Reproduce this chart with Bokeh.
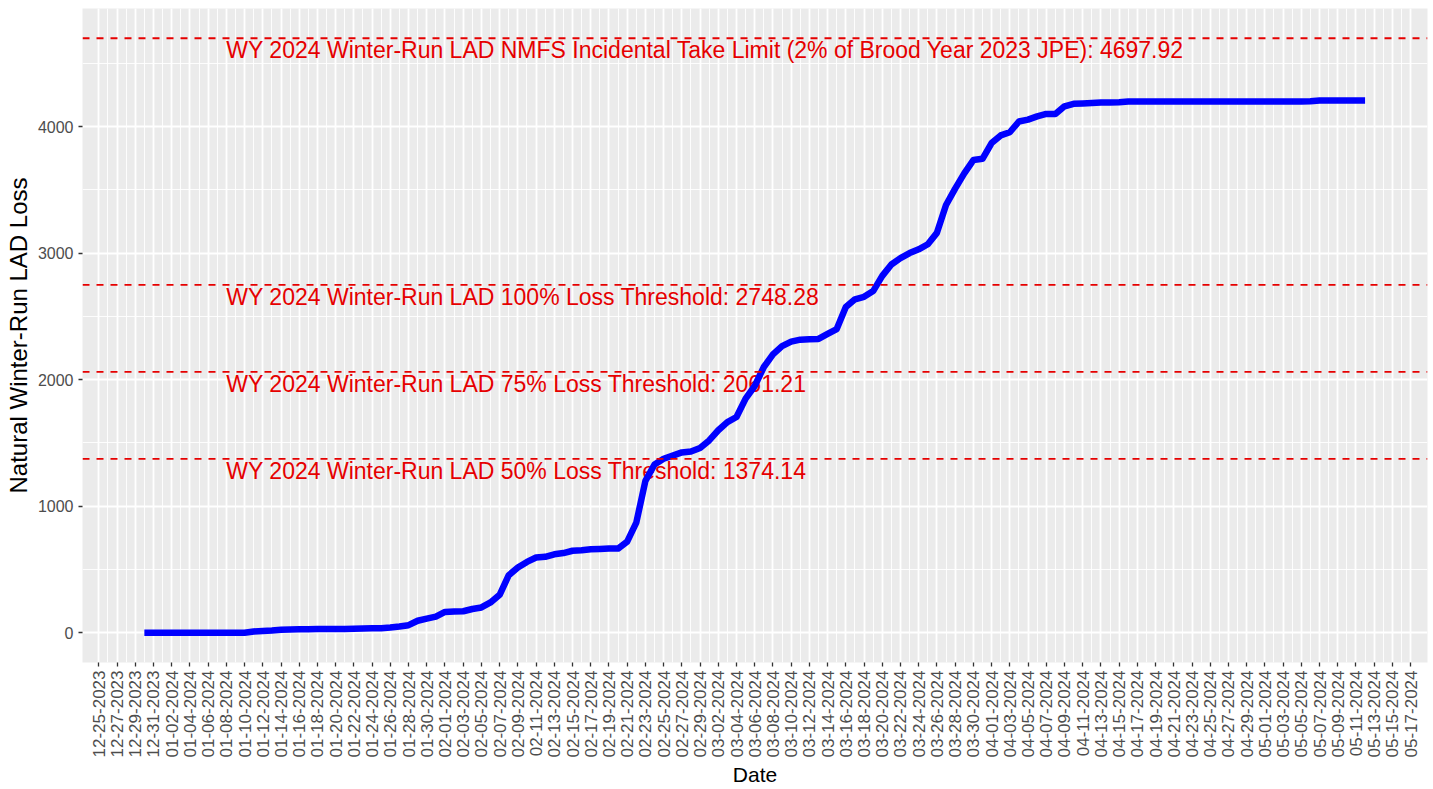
import pandas as pd
from bokeh.plotting import figure
from bokeh.models import Range1d, FixedTicker, DatetimeTickFormatter, ColumnDataSource
from bokeh.core.properties import value
from bokeh.embed import file_html
from bokeh.resources import INLINE

# ---------------- data ----------------
start_date = "2023-12-30"
loss_values = [
    0, 0, 0, 0, 0, 0, 0, 0, 0, 0, 0, 0,                      # Dec 30 - Jan 10
    10, 14, 18, 24, 26, 28, 28, 29, 29, 30,                   # Jan 11 - Jan 20
    30, 32, 34, 35, 36, 42, 50, 60, 95, 112, 128,             # Jan 21 - Jan 31
    165, 168, 170, 188, 200, 240, 300, 455, 515, 560,         # Feb 1 - Feb 10
    595, 600, 620, 630, 648, 652, 660, 662, 665, 665,         # Feb 11 - Feb 20
    720, 870, 1200, 1330, 1375, 1400, 1425, 1432, 1460,       # Feb 21 - Feb 29
    1520, 1600, 1665, 1705, 1850, 1950, 2100, 2200, 2265, 2300,   # Mar 1 - Mar 10
    2316, 2320, 2322, 2362, 2400, 2575, 2635, 2655, 2700, 2820,   # Mar 11 - Mar 20
    2910, 2960, 3000, 3030, 3070, 3160, 3380, 3510, 3630, 3735, 3745,  # Mar 21 - Mar 31
    3870, 3930, 3955, 4040, 4055, 4080, 4100, 4100, 4160, 4180,   # Apr 1 - Apr 10
    4183, 4186, 4190, 4190, 4192, 4198, 4198, 4198, 4198, 4198,   # Apr 11 - Apr 20
    4198, 4198, 4198, 4198, 4198, 4198, 4198, 4198, 4198, 4198,   # Apr 21 - Apr 30
    4198, 4198, 4198, 4198, 4198, 4200, 4206, 4206, 4206, 4206, 4206, 4206,  # May 1 - May 12
]

threshold_values = [4697.92, 2748.28, 2061.21, 1374.14]
threshold_labels = [
    "WY 2024 Winter-Run LAD NMFS Incidental Take Limit (2% of Brood Year 2023 JPE): 4697.92",
    "WY 2024 Winter-Run LAD 100% Loss Threshold: 2748.28",
    "WY 2024 Winter-Run LAD 75% Loss Threshold: 2061.21",
    "WY 2024 Winter-Run LAD 50% Loss Threshold: 1374.14",
]
label_date = "2024-01-08"

tick_first, tick_last = "2023-12-25", "2024-05-17"
y_ticks = [0, 1000, 2000, 3000, 4000]
y_minor = [500, 1500, 2500, 3500, 4500]

# ---------------- derived ----------------
dates = pd.date_range(start_date, periods=len(loss_values), freq="D")
major_dates = pd.date_range(tick_first, tick_last, freq="2D")
minor_dates = pd.date_range(tick_first, tick_last, freq="D")
to_ms = lambda d: float(pd.Timestamp(d).value // 10**6)
major_ms = [to_ms(d) for d in major_dates]
minor_ms = [to_ms(d) for d in minor_dates]

x0 = pd.Timestamp(tick_first) - pd.Timedelta(days=1.79)
x1 = pd.Timestamp(tick_last) + pd.Timedelta(days=1.85)
ymax = max(max(loss_values), max(threshold_values))
pad = 0.05 * ymax

FONT = "Liberation Sans"

p = figure(width=1433, height=789, x_axis_type="datetime",
           x_range=Range1d(x0, x1), y_range=Range1d(-pad, ymax + pad),
           output_backend="svg", toolbar_location=None)
p.min_border_left = 82
p.min_border_right = 6
p.min_border_top = 8
p.min_border_bottom = 127
p.background_fill_color = "#EBEBEB"
p.border_fill_color = "white"
p.outline_line_color = None

# grids
p.xaxis.ticker = FixedTicker(ticks=major_ms, minor_ticks=minor_ms)
p.yaxis.ticker = FixedTicker(ticks=y_ticks, minor_ticks=y_minor)
for g in (p.xgrid, p.ygrid):
    g.grid_line_color = "white"
    g.grid_line_width = 1.8
    g.minor_grid_line_color = "white"
    g.minor_grid_line_width = 0.9

fmt = "%m-%d-%Y"
p.xaxis.formatter = DatetimeTickFormatter(days=fmt, months=fmt, years=fmt, hours=fmt,
                                          minutes=fmt, seconds=fmt, milliseconds=fmt,
                                          microseconds=fmt, minsec=fmt, hourmin=fmt,
                                          context=None)
p.xaxis.major_label_orientation = 1.5707963
for ax in (p.xaxis, p.yaxis):
    ax.axis_line_color = None
    ax.major_tick_line_color = "#333333"
    ax.major_tick_line_width = 1.3
    ax.major_tick_out = 4
    ax.major_tick_in = 0
    ax.minor_tick_line_color = None
    ax.major_label_text_font = FONT
    ax.major_label_text_color = "#4D4D4D"
    ax.axis_label_text_font = FONT
    ax.axis_label_text_font_style = "normal"
    ax.axis_label_text_color = "black"
p.xaxis.major_label_standoff = 4
p.yaxis.major_label_standoff = 5
p.xaxis.major_label_text_font_size = "17px"
p.yaxis.major_label_text_font_size = "16px"
p.xaxis.axis_label = "Date"
p.yaxis.axis_label = "Natural Winter-Run LAD Loss"
p.xaxis.axis_label_text_font_size = "21px"
p.yaxis.axis_label_text_font_size = "24px"
p.xaxis.axis_label_standoff = 3
p.yaxis.axis_label_standoff = 3

# threshold labels (under the line)
lab_src = ColumnDataSource(dict(x=[pd.Timestamp(label_date)] * len(threshold_values),
                                y=threshold_values, text=threshold_labels))
p.text(x="x", y="y", text="text", source=lab_src, text_font=value(FONT),
       text_font_size="23px", text_color="#E60000", text_align="left",
       text_baseline="top", y_offset=-1)

# cumulative loss line
src = ColumnDataSource(dict(x=dates, y=loss_values))
p.line(x="x", y="y", source=src, line_color="#0000FF", line_width=6.5,
       line_cap="butt", line_join="round")

# threshold dashed lines
for v in threshold_values:
    p.line(x=[x0, x1], y=[v, v], line_color="#E60000", line_width=1.8, line_dash="7 7")

open("out.html", "w").write(file_html(p, INLINE))
